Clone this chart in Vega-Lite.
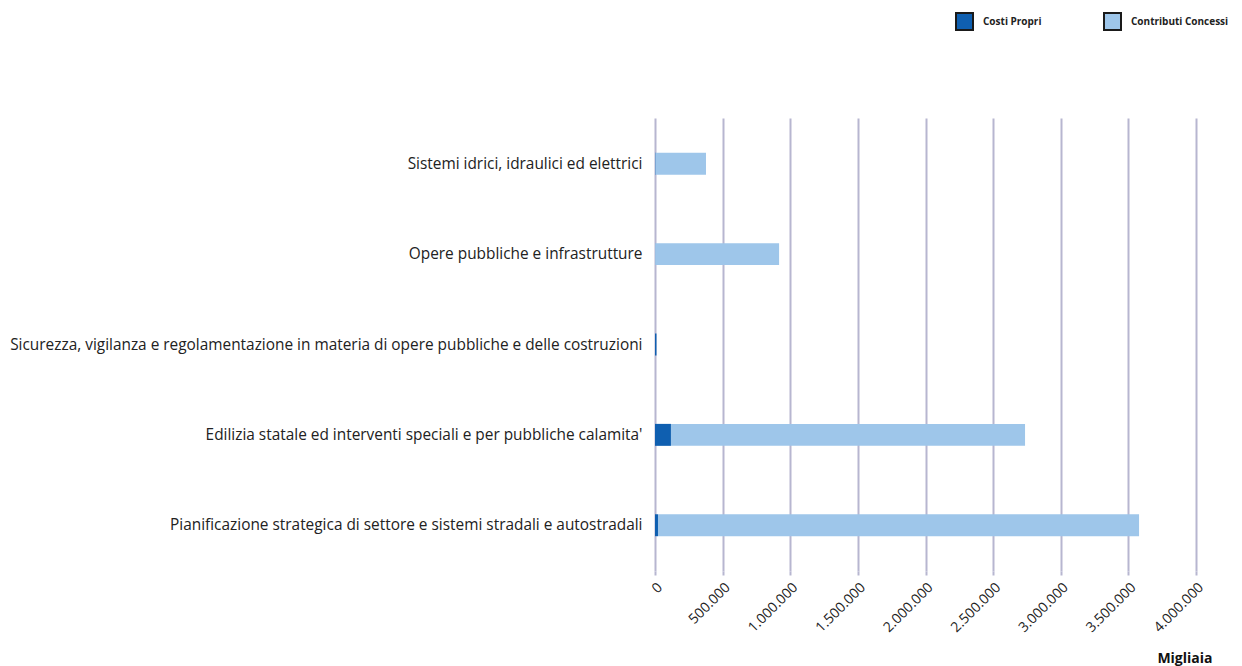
{
  "$schema": "https://vega.github.io/schema/vega-lite/v6.json",
  "width": 541,
  "height": 453,
  "autosize": {"type": "none"},
  "padding": {"left": 655, "top": 118, "right": 46, "bottom": 95},
  "background": "white",
  "config": {
    "view": {"stroke": null},
    "font": "Open Sans"
  },
  "data": {
    "values": [
      {"categoria": "Sistemi idrici, idraulici ed elettrici", "serie": "Costi Propri", "ordine": 1, "valore": 4000},
      {"categoria": "Sistemi idrici, idraulici ed elettrici", "serie": "Contributi Concessi", "ordine": 2, "valore": 373000},
      {"categoria": "Opere pubbliche e infrastrutture", "serie": "Costi Propri", "ordine": 1, "valore": 1500},
      {"categoria": "Opere pubbliche e infrastrutture", "serie": "Contributi Concessi", "ordine": 2, "valore": 916000},
      {"categoria": "Sicurezza, vigilanza e regolamentazione in materia di opere pubbliche e delle costruzioni", "serie": "Costi Propri", "ordine": 1, "valore": 11000},
      {"categoria": "Sicurezza, vigilanza e regolamentazione in materia di opere pubbliche e delle costruzioni", "serie": "Contributi Concessi", "ordine": 2, "valore": 0},
      {"categoria": "Edilizia statale ed interventi speciali e per pubbliche calamita'", "serie": "Costi Propri", "ordine": 1, "valore": 118000},
      {"categoria": "Edilizia statale ed interventi speciali e per pubbliche calamita'", "serie": "Contributi Concessi", "ordine": 2, "valore": 2618000},
      {"categoria": "Pianificazione strategica di settore e sistemi stradali e autostradali", "serie": "Costi Propri", "ordine": 1, "valore": 22000},
      {"categoria": "Pianificazione strategica di settore e sistemi stradali e autostradali", "serie": "Contributi Concessi", "ordine": 2, "valore": 3557000}
    ]
  },
  "mark": {"type": "bar"},
  "encoding": {
    "y": {
      "field": "categoria",
      "type": "nominal",
      "sort": null,
      "scale": {"paddingInner": 0.757, "paddingOuter": 0.385},
      "axis": {
        "title": null,
        "domain": false,
        "ticks": false,
        "labelFontSize": 15.4,
        "labelFont": "Open Sans",
        "labelColor": "#222222",
        "labelPadding": 13,
        "labelLimit": 800
      }
    },
    "x": {
      "field": "valore",
      "type": "quantitative",
      "stack": "zero",
      "scale": {"domain": [0, 4000000], "nice": false},
      "axis": {
        "values": [0, 500000, 1000000, 1500000, 2000000, 2500000, 3000000, 3500000, 4000000],
        "labelExpr": "replace(format(datum.value, ','), /,/g, '.')",
        "labelAngle": -45,
        "labelFontSize": 14,
        "labelFont": "Open Sans",
        "labelColor": "#222222",
        "labelPadding": 5,
        "grid": true,
        "gridColor": "#b7b6d0",
        "gridWidth": 2,
        "domain": false,
        "ticks": true,
        "tickColor": "#b7b6d0",
        "tickWidth": 2,
        "tickSize": 4,
        "title": "Migliaia",
        "titleFontSize": 14,
        "titleFontWeight": "bold",
        "titleColor": "#111111",
        "titleAnchor": "end",
        "titleAlign": "right",
        "titleX": 557,
        "titleY": 94,
        "titleBaseline": "bottom"
      }
    },
    "color": {
      "field": "serie",
      "type": "nominal",
      "scale": {"domain": ["Costi Propri", "Contributi Concessi"], "range": ["#0f5fb0", "#9ec6ea"]},
      "legend": {
        "title": null,
        "orient": "none",
        "legendX": 300,
        "legendY": -106,
        "direction": "horizontal",
        "symbolType": "square",
        "symbolSize": 289,
        "symbolStrokeColor": "#1a1a1a",
        "symbolStrokeWidth": 2,
        "labelFontSize": 10,
        "labelFontWeight": "bold",
        "labelFont": "Open Sans",
        "labelColor": "#222222",
        "labelOffset": 9,
        "columnPadding": 58
      }
    },
    "order": {"field": "ordine", "type": "quantitative"}
  }
}
